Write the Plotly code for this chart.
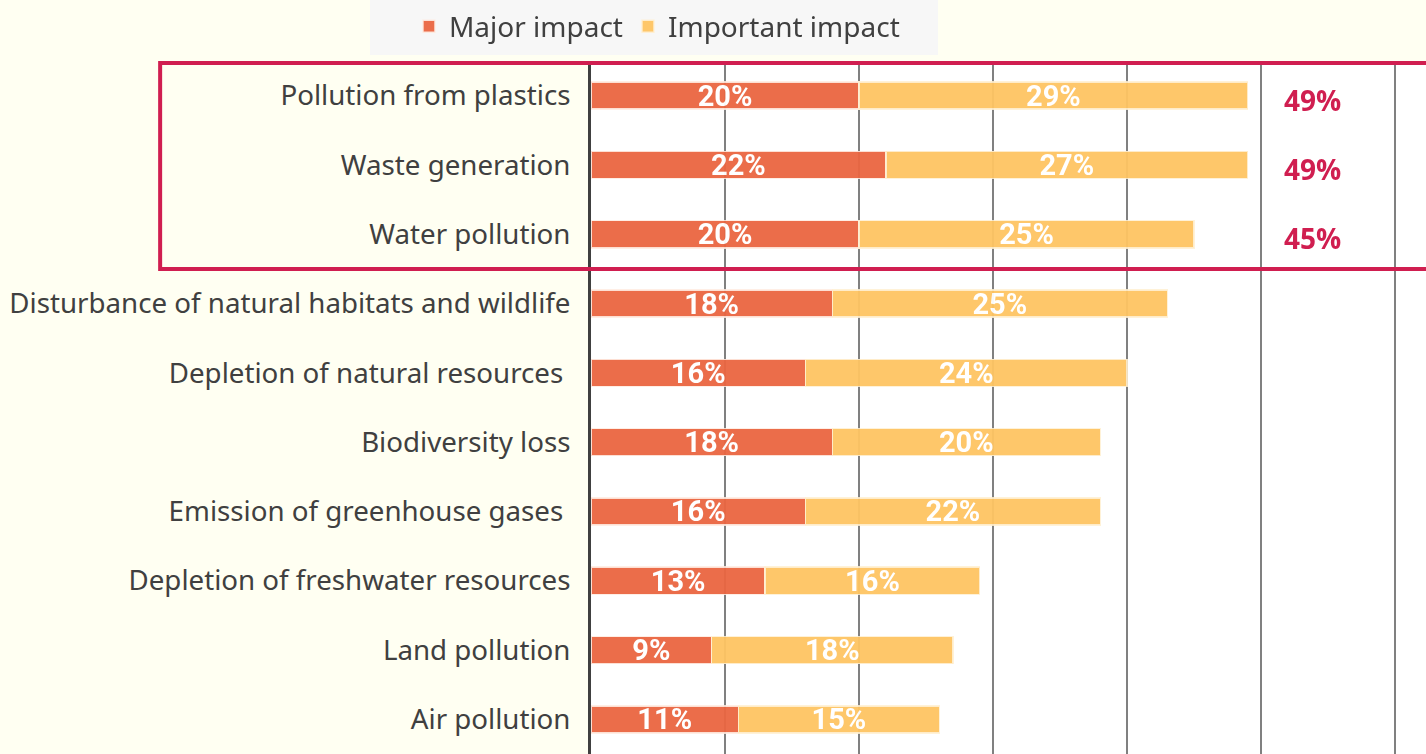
import plotly.graph_objects as go

categories = [
    "Pollution from plastics",
    "Waste generation",
    "Water pollution",
    "Disturbance of natural habitats and wildlife",
    "Depletion of natural resources ",
    "Biodiversity loss",
    "Emission of greenhouse gases ",
    "Depletion of freshwater resources",
    "Land pollution",
    "Air pollution",
]
major = [20, 22, 20, 18, 16, 18, 16, 13, 9, 11]
important = [29, 27, 25, 25, 24, 20, 22, 16, 18, 15]
highlight_totals = [49, 49, 45]

MAJOR_COLOR = "#EA6641"
IMPORTANT_COLOR = "#FEC463"
RED = "#D01E50"
TEXT = "#404040"

bar_font = dict(color="white", size=29, family="Roboto", weight="bold")

fig = go.Figure()
fig.add_trace(go.Bar(
    name="Major impact", y=categories, x=major, orientation="h",
    marker=dict(color=MAJOR_COLOR, line=dict(color="rgba(255,235,225,0.9)", width=1.5)),
    opacity=0.95,
    texttemplate="%{x}%", textposition="inside", insidetextanchor="middle",
    textfont=bar_font, constraintext="none", width=0.39,
))
fig.add_trace(go.Bar(
    name="Important impact", y=categories, x=important, orientation="h",
    marker=dict(color=IMPORTANT_COLOR, line=dict(color="rgba(255,240,210,0.9)", width=1.5)),
    opacity=0.95,
    texttemplate="%{x}%", textposition="inside", insidetextanchor="middle",
    textfont=bar_font, constraintext="none", width=0.39,
))

# totals for the highlighted rows
for cat, total in zip(categories, highlight_totals):
    fig.add_annotation(
        x=53.8, y=cat, xref="x", yref="y", text=f"{total}%",
        showarrow=False, yshift=-4,
        font=dict(color=RED, size=28, family="Open Sans", weight="bold"),
    )

# highlight box around the top three rows
fig.add_shape(
    type="rect", xref="paper", yref="y",
    x0=-0.516, x1=1.05, y0=-0.47, y1=2.5,
    line=dict(color=RED, width=4), layer="above",
)
# grey panel behind the legend
fig.add_shape(
    type="rect", xref="paper", yref="paper",
    x0=-0.2647, x1=0.4156, y0=1.0087, y1=1.09,
    fillcolor="#F7F7F7", line=dict(width=0), layer="below",
)

fig.update_layout(
    width=1426, height=754,
    barmode="stack",
    paper_bgcolor="#FFFFF2",
    plot_bgcolor="white",
    margin=dict(l=591, r=0, t=61, b=0),
    font=dict(family="Noto Sans", color=TEXT),
    legend=dict(
        orientation="h", x=0.079, xanchor="center", y=0.998, yanchor="top",
        yref="container", bgcolor="rgba(0,0,0,0)",
        font=dict(size=28, color=TEXT, family="Noto Sans"),
        itemwidth=30, traceorder="normal",
    ),
    showlegend=True,
)
fig.update_xaxes(
    range=[0, 62.3], dtick=10, showticklabels=False,
    showgrid=True, gridcolor="#808080", gridwidth=1.5, zeroline=False,
)
fig.update_yaxes(
    autorange="reversed", showgrid=False,
    showline=True, linecolor="#404040", linewidth=3,
    tickfont=dict(size=27.7, color=TEXT, family="Noto Sans"),
    ticks="", ticklabelstandoff=12,
)

fig.write_html(
    "out.html",
    config={"displayModeBar": False},
    post_script="document.body.style.margin='0';",
)
